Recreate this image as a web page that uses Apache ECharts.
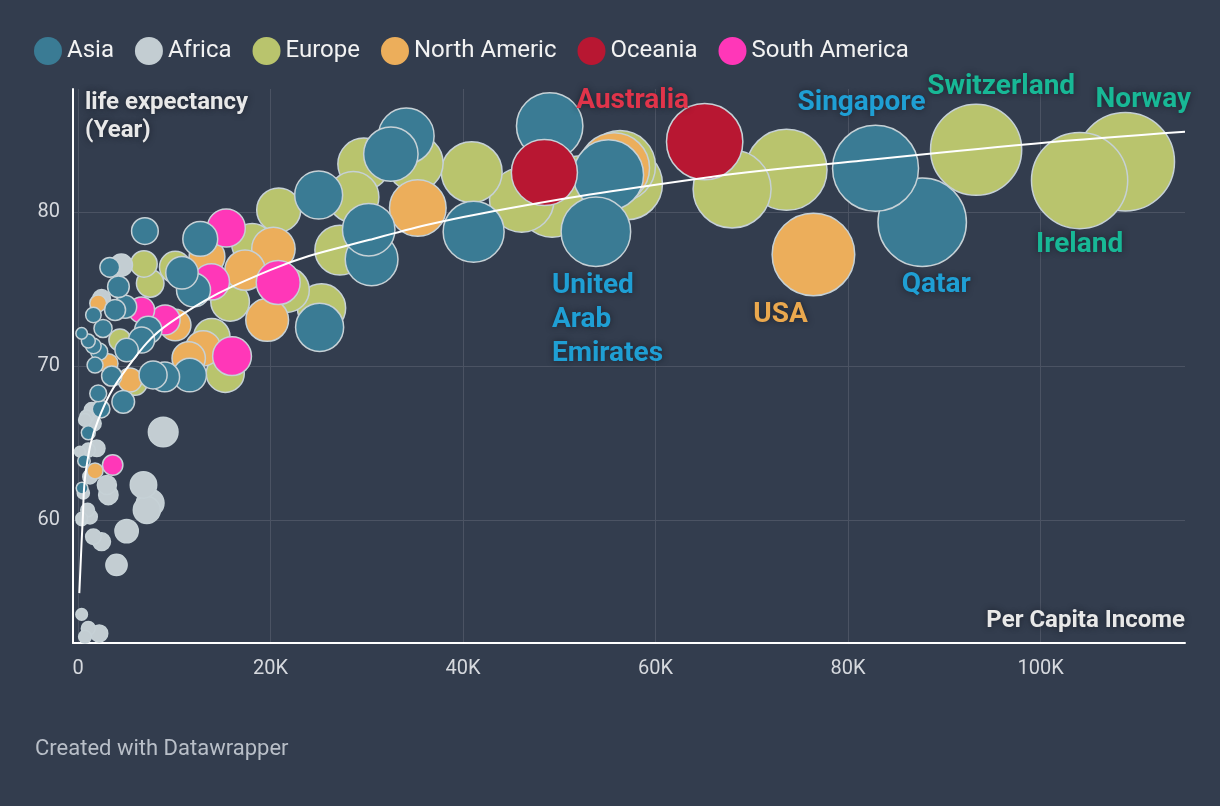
<!DOCTYPE html>
<html>
<head>
<meta charset="utf-8">
<script src="https://cdn.jsdelivr.net/npm/echarts@6/dist/echarts.min.js"></script>
<style>
html,body{margin:0;padding:0;background:#333d4e;}
#chart{width:1220px;height:806px;}
</style>
</head>
<body>
<div id="chart"></div>
<script>
// ---- data: [per capita income, life expectancy, name?] ----
const legendNames = ['Asia', 'Africa', 'Europe', 'North Americ', 'Oceania', 'South America'];

const asia = [
  [87700, 79.34, 'Qatar'], [82850, 82.85, 'Singapore'], [55100, 82.41], [53800, 78.73, 'United Arab Emirates'],
  [49000, 85.6], [41100, 78.73], [34100, 84.95], [32500, 83.77], [25000, 81.11], [30200, 78.86],
  [30500, 76.93], [25100, 72.51], [12700, 78.26], [10800, 76.06], [12000, 74.94], [11600, 69.41],
  [6950, 78.77], [3300, 76.41], [4200, 75.15], [3850, 73.64], [4900, 73.85], [1600, 73.31],
  [2600, 72.44], [380, 72.12], [1070, 71.62], [1600, 71.3], [2200, 70.93], [5050, 71.04],
  [6600, 71.69], [7300, 72.34], [1770, 70.06], [3500, 69.35], [7800, 69.42], [9000, 69.29],
  [2100, 68.22], [4700, 67.67], [2400, 67.2], [1070, 65.66], [620, 63.83], [420, 62.07]
];
const africa = [
  [4500, 76.56], [2450, 74.39], [8850, 65.71], [6800, 62.27], [7500, 61.1], [7150, 60.64],
  [5050, 59.27], [4000, 57.07], [2200, 52.62], [1070, 52.95], [380, 53.86], [730, 52.41],
  [3000, 62.27], [3150, 61.62], [1950, 64.65], [1070, 64.54], [200, 64.43], [1250, 62.81],
  [550, 61.75], [1250, 60.21], [1600, 58.91], [380, 60.12], [2450, 58.58], [730, 66.49],
  [1600, 66.27], [1430, 67.14], [900, 66.71], [400, 60.0], [1000, 60.64]
];
const europe = [
  [108800, 83.27, 'Norway'], [104050, 82.05, 'Ireland'], [93300, 84.05, 'Switzerland'], [73600, 82.75],
  [67950, 81.5], [56300, 82.99], [57000, 81.82], [51950, 81.43], [46100, 80.79], [49250, 80.53],
  [40900, 82.6], [35000, 83.19], [29700, 83.12], [28600, 80.98], [27200, 77.53], [20850, 80.14],
  [18100, 77.93], [21700, 74.94], [25300, 73.77], [15800, 74.17], [13900, 71.9], [15300, 69.52],
  [10100, 76.43], [6850, 76.63], [7500, 75.37], [4350, 71.69], [5900, 68.9]
];
const northAmerica = [
  [76400, 77.25, 'USA'], [55700, 82.86], [35300, 80.27], [20300, 77.61], [17350, 76.23], [13400, 77.1],
  [19650, 72.99], [13000, 71.15], [11500, 70.5], [10100, 72.66], [2100, 74.07], [3150, 70.17],
  [5400, 69.09], [1770, 63.18]
];
const oceania = [
  [65100, 84.58, 'Australia'], [48450, 82.57]
];
const southAmerica = [
  [15400, 78.97], [20800, 75.42], [13850, 75.47], [16000, 70.64], [6600, 73.64], [9050, 72.99], [3600, 63.57]
];

// trend line
const trendX = [135, 490, 830, 2100, 4900, 9550, 19950, 30300, 41800, 64600, 80200, 99300, 115000];
const trendY = [55.24, 60.0, 63.24, 66.5, 69.7, 72.8, 76.23, 78.2, 79.9, 82.19, 83.27, 84.45, 85.22];

const xTicks = [0, 20000, 40000, 60000, 80000, 100000];
const yTicks = [60, 70, 80];

// ---- styling ----
const colors = {
  'Asia': '#3a7b94', 'Africa': '#c3cdd2', 'Europe': '#b9c46d',
  'North Americ': '#ecae5b', 'Oceania': '#b81732', 'South America': '#ff37b8'
};
const blueLbl = '#1f9fd4', tealLbl = '#18b896';
const callouts = {
  'Australia':   {color: '#e0344a', offset: [-72, -41]},
  'Singapore':   {color: blueLbl, offset: [-14, -65]},
  'Switzerland': {color: tealLbl, offset: [25, -63]},
  'Norway':      {color: tealLbl, offset: [18, -62]},
  'Ireland':     {color: tealLbl, offset: [0, 64]},
  'Qatar':       {color: blueLbl, offset: [14, 63]},
  'USA':         {color: '#eaa84e', offset: [-33, 61]},
  'United Arab Emirates': {color: blueLbl, offset: [-44, 88], align: 'left', text: 'United\nArab\nEmirates'}
};
const FONT = 'Roboto, "Noto Sans", sans-serif';

function toItems(arr) {
  return arr.slice().sort((a, b) => b[0] - a[0]).map(d => {
    const item = {value: [d[0], d[1]]};
    if (d[2] && callouts[d[2]]) {
      const c = callouts[d[2]];
      item.name = d[2];
      item.label = {
        show: true, position: 'inside', offset: c.offset,
        formatter: c.text || d[2],
        color: c.color, fontSize: 28, fontWeight: 'bold', fontFamily: FONT,
        lineHeight: 34, align: c.align || 'center', verticalAlign: 'middle',
        textShadowColor: 'rgba(20,25,35,0.75)', textShadowBlur: 6
      };
    }
    return item;
  });
}

function bubble(name, arr) {
  return {
    name: name, type: 'scatter', data: toItems(arr),
    symbolSize: v => 2 * Math.sqrt(25 + 0.022 * v[0]),
    itemStyle: {color: colors[name], borderColor: '#c6d1d6', borderWidth: 1.5, opacity: 1},
    emphasis: {disabled: true},
    clip: false
  };
}

const chart = echarts.init(document.getElementById('chart'), null, {renderer: 'canvas'});
chart.setOption({
  backgroundColor: '#333d4e',
  animation: false,
  textStyle: {fontFamily: FONT},
  title: {
    text: 'Created with Datawrapper', left: 30, top: 733,
    textStyle: {fontSize: 22, fontWeight: 'normal', color: '#b9bfc8', fontFamily: FONT}
  },
  legend: {
    data: legendNames, left: 34, top: 37, padding: 0, icon: 'circle',
    itemWidth: 28, itemHeight: 28, itemGap: 21,
    textStyle: {color: '#f2f2f2', fontSize: 24, fontFamily: FONT},
    itemStyle: {borderWidth: 0},
    selectedMode: false
  },
  grid: {left: 73, right: 35, top: 89, bottom: 163},
  xAxis: {
    type: 'value', min: -520, max: 115000,
    name: 'Per Capita Income', nameLocation: 'end', nameGap: 0,
    nameTextStyle: {
      color: '#e8e8e8', fontSize: 24, fontWeight: 'bold', fontFamily: FONT,
      align: 'right', verticalAlign: 'bottom', padding: [0, 0, 10, 0],
      textShadowColor: 'rgba(20,25,35,0.8)', textShadowBlur: 6
    },
    axisLine: {show: true, onZero: false, lineStyle: {color: '#ffffff', width: 2}},
    axisTick: {show: false, customValues: xTicks},
    axisLabel: {
      customValues: xTicks, color: '#d6d9de', fontSize: 20, margin: 16, fontFamily: FONT,
      formatter: v => v === 0 ? '0' : (v / 1000) + 'K'
    },
    splitLine: {show: true, lineStyle: {color: '#4b5363', width: 1}}
  },
  yAxis: {
    type: 'value', min: 52, max: 88,
    name: 'life expectancy\n(Year)', nameLocation: 'end', nameGap: 0,
    nameTextStyle: {
      color: '#e8e8e8', fontSize: 24, fontWeight: 'bold', fontFamily: FONT, lineHeight: 28,
      align: 'left', verticalAlign: 'top', padding: [0, 0, 0, 12],
      textShadowColor: 'rgba(20,25,35,0.8)', textShadowBlur: 6
    },
    axisLine: {show: true, onZero: false, lineStyle: {color: '#ffffff', width: 2}},
    axisTick: {show: false, customValues: yTicks},
    axisLabel: {customValues: yTicks, color: '#d6d9de', fontSize: 20, margin: 13, fontFamily: FONT},
    splitLine: {show: true, lineStyle: {color: '#4b5363', width: 1}}
  },
  series: [
    bubble('Europe', europe),
    bubble('Africa', africa),
    bubble('North Americ', northAmerica),
    bubble('South America', southAmerica),
    bubble('Asia', asia),
    bubble('Oceania', oceania),
    {
      name: 'trend', type: 'line', z: 10, silent: true,
      data: trendX.map((x, i) => [x, trendY[i]]),
      showSymbol: false, smooth: 0.4,
      lineStyle: {color: '#ffffff', width: 2}
    }
  ]
});
</script>
</body>
</html>
